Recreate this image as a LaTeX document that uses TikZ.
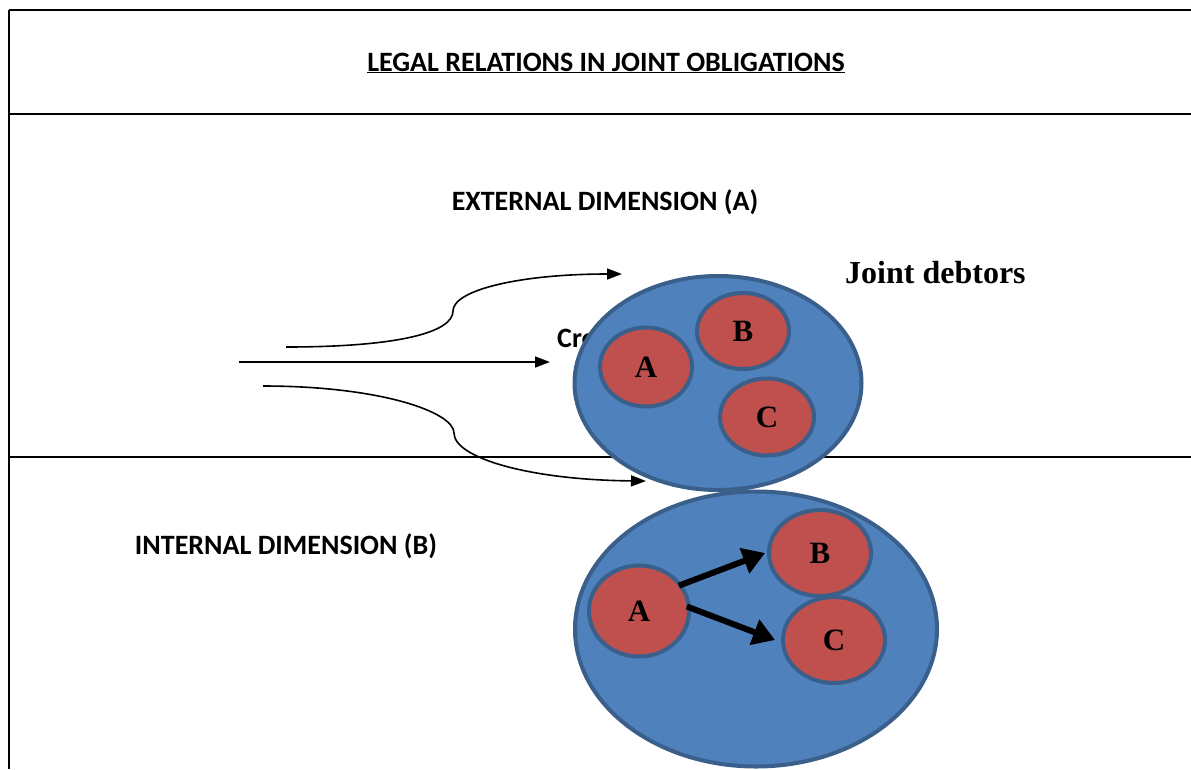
\documentclass[tikz,border=0pt]{standalone}
\usepackage{fontspec}
\setmainfont{Liberation Serif}
\newfontfamily\calib{Carlito}
\usetikzlibrary{shapes.geometric,arrows.meta}
\definecolor{bluefill}{HTML}{4F81BD}
\definecolor{blueline}{HTML}{3A5F8B}
\definecolor{redfill}{HTML}{C0504D}
\tikzset{
  frame/.style={line width=2pt,black},
  heading/.style={font=\calib\bfseries\fontsize{28}{30}\selectfont,inner sep=0pt},
  bigell/.style={ellipse,draw=blueline,fill=bluefill,line width=4pt,inner sep=0pt},
  smallell/.style={ellipse,draw=blueline,fill=redfill,line width=4pt,inner sep=0pt,font=\bfseries\fontsize{31}{33}\selectfont},
  thinarrow/.style={line width=1.6pt,-{Triangle[length=15pt,width=11pt]}},
  thickarrow/.style={line width=6pt,-{Triangle[length=22pt,width=26pt]}}
}
\begin{document}
\begin{tikzpicture}[x=1pt,y=-1pt]
\useasboundingbox (0,0) rectangle (1191,769);
% frame lines
\coordinate (tl) at (9,10);
\coordinate (tr) at (1191,10);
\coordinate (ml) at (9,114);
\coordinate (mr) at (1191,114);
\coordinate (ll) at (9,457);
\coordinate (lr) at (1191,457);
\coordinate (bl) at (9,769);
\draw[frame] (tl) -- (tr);
\draw[frame] (ml) -- (mr);
\draw[frame] (ll) -- (lr);
\draw[frame] (tl) -- (bl);
% texts
\node[heading] (title) at (606,63) {\underline{LEGAL RELATIONS IN JOINT OBLIGATIONS}};
\node[heading] (ext) at (605,202) {EXTERNAL DIMENSION (A)};
\node[heading] (int) at (286,546) {INTERNAL DIMENSION (B)};
\node[font=\bfseries\fontsize{32}{34}\selectfont,inner sep=0pt,anchor=west] (jd) at (845,273) {Joint debtors};
\node[heading,anchor=west] (cred) at (557,338) {Creditor};
% left arrows
\coordinate (s1) at (286,347);
\coordinate (m1) at (453,311);
\coordinate (e1) at (622,274);
\coordinate (s2) at (239,362);
\coordinate (e2) at (550,362);
\coordinate (s3) at (263,386);
\coordinate (m3) at (454,433);
\coordinate (e3) at (646,481);
\draw[thinarrow] (s1) .. controls (400,347) and (453,332) .. (m1) .. controls (453,290) and (520,274) .. (e1);
\draw[thinarrow] (s2) -- (e2);
\draw[thinarrow] (s3) .. controls (380,386) and (454,412) .. (m3) .. controls (454,458) and (530,480) .. (e3);
% upper group
\node[bigell,minimum width=287pt,minimum height=214pt] (U) at (718,383) {};
\node[smallell,minimum width=92pt,minimum height=79pt] (UA) at (646,367) {A};
\node[smallell,minimum width=92pt,minimum height=76pt] (UB) at (743,331) {B};
\node[smallell,minimum width=94pt,minimum height=77pt] (UC) at (767,417) {C};
% lower group
\node[bigell,minimum width=362pt,minimum height=275pt] (L) at (756,629) {};
\node[smallell,minimum width=100pt,minimum height=91pt] (LA) at (639,611) {A};
\node[smallell,minimum width=102pt,minimum height=86pt] (LB) at (820,553) {B};
\node[smallell,minimum width=102pt,minimum height=86pt] (LC) at (834,640) {C};
\draw[thickarrow] ([xshift=-4pt]LA.30) -- ([xshift=-2pt]LB.west);
\draw[thickarrow] ([xshift=-4pt]LA.5) -- ([xshift=-6pt]LC.west);
\end{tikzpicture}
\end{document}
